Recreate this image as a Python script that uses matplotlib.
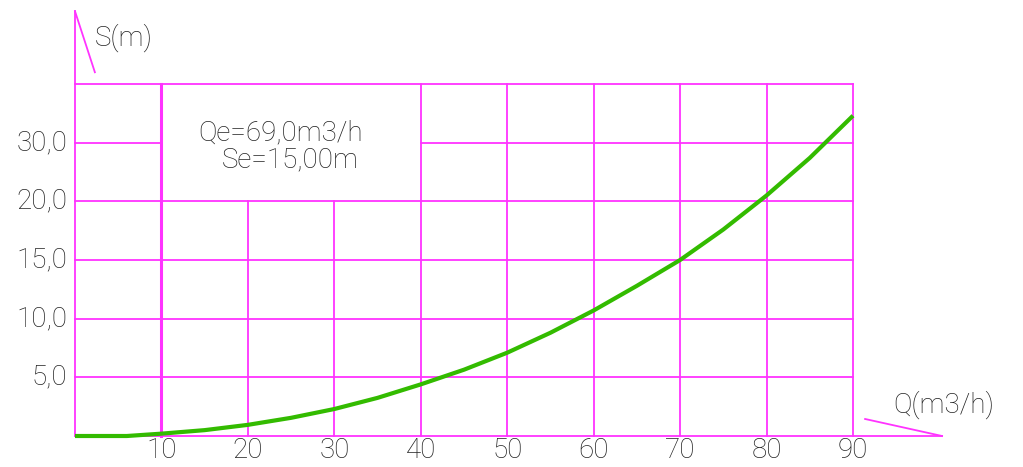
import matplotlib
matplotlib.use("Agg")
import matplotlib.pyplot as plt

# Kennlinie S(Q) (y in gleichmaessigen Rastereinheiten)
q_werte = [0, 6, 10, 15, 20, 25, 30, 35, 40, 45, 50, 55, 60, 65, 70, 75, 80, 85, 90]
s_werte = [0, 0, 0.2, 0.5, 0.95, 1.55, 2.3, 3.25, 4.4, 5.65, 7.1, 8.8, 10.7, 12.8,
           15.0, 17.6, 20.5, 23.7, 27.3]

x_ticks = [10, 20, 30, 40, 50, 60, 70, 80, 90]
y_ticks = [5, 10, 15, 20, 25]
y_labels = ["5,0", "10,0", "15,0", "20,0", "30,0"]

info_1 = "Qe=69,0m3/h"
info_2 = "Se=15,00m"

mag = "#ff33ff"
gruen = "#33bb00"
txt = "#222222"
schrift = dict(family="Roboto", fontsize=20, fontweight="light", color=txt)

fig = plt.figure(figsize=(10.23, 4.67), dpi=100)
ax = fig.add_axes([75/1023, 1-436/467, 778/1023, 352/467])
ax.set_xlim(0, 90)
ax.set_ylim(0, 30)
ax.axis("off")

# Rasterlinien
lw = 1.3
for y in [5, 10, 15, 20, 30]:
    ax.plot([0, 90], [y, y], color=mag, lw=lw, clip_on=False)
ax.plot([0, 10], [25, 25], color=mag, lw=lw, clip_on=False)
ax.plot([40, 90], [25, 25], color=mag, lw=lw, clip_on=False)
for x in x_ticks:
    oben = 20 if x in (20, 30) else 30
    ax.plot([x, x], [0, oben], color=mag, lw=2.2 if x == 10 else lw, clip_on=False)

# Achsen mit Pfeilstrichen
ax.plot([0, 0], [0, 36.2], color=mag, lw=lw, clip_on=False)
ax.plot([0, 2.3], [36.2, 31.0], color=mag, lw=lw, clip_on=False)
ax.plot([0, 100.3], [0, 0], color=mag, lw=lw, clip_on=False)
ax.plot([91.4, 100.3], [1.45, 0], color=mag, lw=lw, clip_on=False)

# Kurve
ax.plot(q_werte, s_werte, color=gruen, lw=3, solid_capstyle="butt", clip_on=False, zorder=5)

# Beschriftung
for x in x_ticks:
    ax.text(x, -1.25, str(x), ha="center", va="center", **schrift)
for y, lab in zip(y_ticks, y_labels):
    ax.text(-0.9, y, lab, ha="right", va="center", **schrift)

ax.text(2.3, 33.9, "S(m)", ha="left", va="center", **schrift)
ax.text(94.7, 2.65, "Q(m3/h)", ha="left", va="center", **schrift)
ax.text(14.3, 25.8, info_1, ha="left", va="center", **schrift)
ax.text(17.0, 23.5, info_2, ha="left", va="center", **schrift)

fig.savefig("out.png", dpi=100, facecolor="white")
